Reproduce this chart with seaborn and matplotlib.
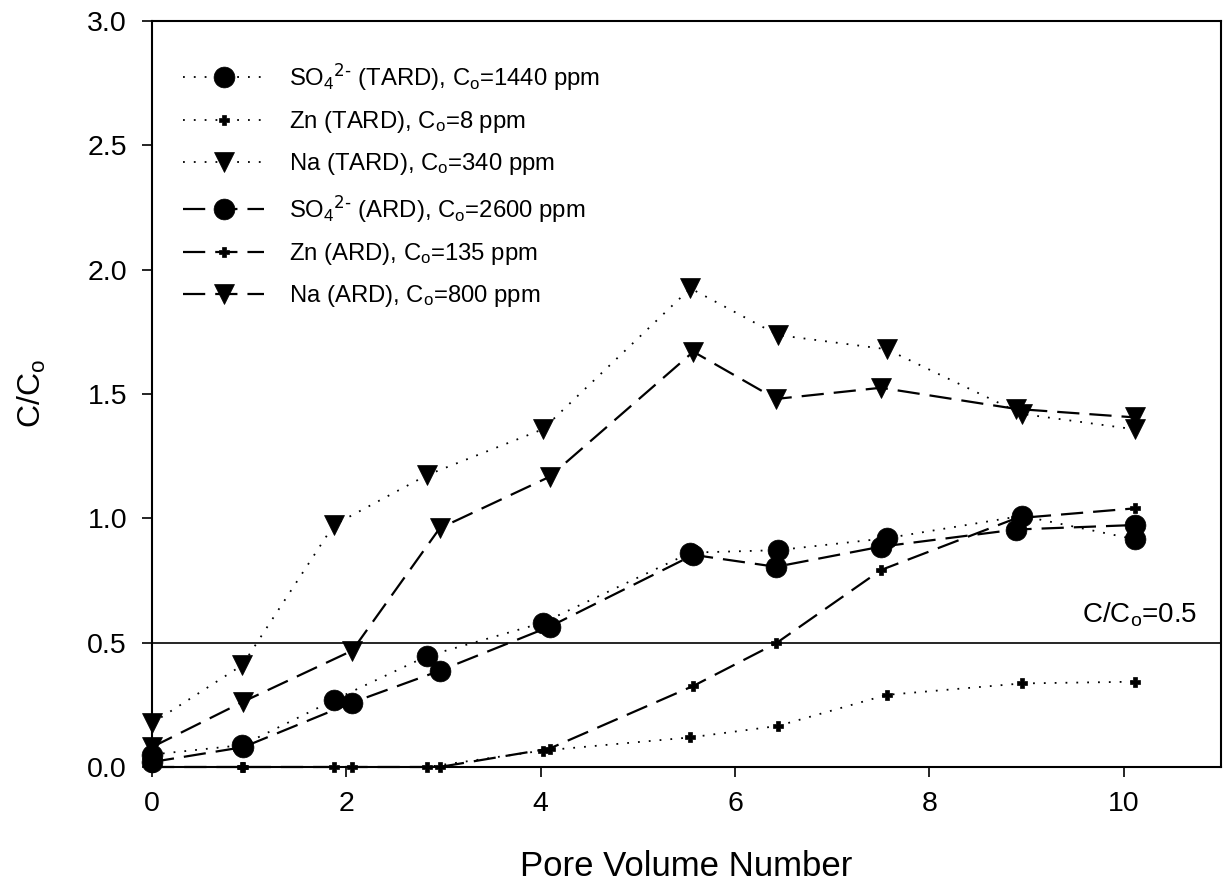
import matplotlib
matplotlib.use("Agg")
import matplotlib.pyplot as plt
import seaborn as sns
import pandas as pd

# ---- data ----
x_tard = [0, 0.93, 1.87, 2.83, 4.02, 5.54, 6.44, 7.56, 8.95, 10.11]
x_ard = [0, 0.94, 2.06, 2.96, 4.09, 5.57, 6.42, 7.50, 8.89, 10.11]

so4_tard = [0.05, 0.088, 0.269, 0.446, 0.58, 0.862, 0.872, 0.92, 1.01, 0.916]
zn_tard = [0.0, 0.0, 0.0, 0.0, 0.066, 0.119, 0.165, 0.29, 0.336, 0.343]
na_tard = [0.176, 0.41, 0.973, 1.174, 1.358, 1.925, 1.737, 1.68, 1.42, 1.358]

so4_ard = [0.02, 0.08, 0.259, 0.387, 0.564, 0.853, 0.805, 0.886, 0.955, 0.973]
zn_ard = [0.0, 0.0, 0.0, 0.0, 0.074, 0.326, 0.497, 0.792, 1.0, 1.04]
na_ard = [0.08, 0.263, 0.468, 0.96, 1.167, 1.67, 1.48, 1.525, 1.44, 1.406]

labels = [
    r"SO$_4$$^{\text{2-}}$ (TARD), C$_o$=1440 ppm",
    r"Zn (TARD), C$_o$=8 ppm",
    r"Na (TARD), C$_o$=340 ppm",
    r"SO$_4$$^{\text{2-}}$ (ARD), C$_o$=2600 ppm",
    r"Zn (ARD), C$_o$=135 ppm",
    r"Na (ARD), C$_o$=800 ppm",
]
x_ticks = [0, 2, 4, 6, 8, 10]
y_ticks = [0.0, 0.5, 1.0, 1.5, 2.0, 2.5, 3.0]
ref_level = 0.5

# ---- style ----
sns.set_style("ticks")
plt.rcParams["font.family"] = ["Liberation Sans", "DejaVu Sans"]
plt.rcParams["mathtext.default"] = "regular"
plt.rcParams["text.color"] = "black"
plt.rcParams["axes.labelcolor"] = "black"
plt.rcParams["xtick.color"] = "black"
plt.rcParams["ytick.color"] = "black"

fig = plt.figure(figsize=(12.31, 8.82), dpi=100)
ax = fig.add_axes([0.1235, 0.1304, 0.8684, 0.8458])

series = [
    (x_tard, so4_tard, labels[0], "o", 15, "tard"),
    (x_tard, zn_tard, labels[1], "P", 7, "tard"),
    (x_tard, na_tard, labels[2], "v", 14, "tard"),
    (x_ard, so4_ard, labels[3], "o", 15, "ard"),
    (x_ard, zn_ard, labels[4], "P", 7, "ard"),
    (x_ard, na_ard, labels[5], "v", 14, "ard"),
]

for xs, ys, lab, mk, ms, kind in series:
    df = pd.DataFrame({"x": xs, "y": ys})
    if kind == "tard":
        ls = (0, (1, 5))
        lw = 1.3
    else:
        ls = (0, (10, 4.5))
        lw = 1.6
    sns.lineplot(data=df, x="x", y="y", ax=ax, color="black", estimator=None,
                 sort=False, label=lab, linestyle=ls, linewidth=lw,
                 marker=mk, markersize=ms, markeredgecolor="black",
                 markerfacecolor="black", markeredgewidth=0.5, clip_on=False)

ax.axhline(ref_level, color="black", linewidth=1.2, zorder=1)
ax.text(10.16, 0.58, r"C/C$_o$=0.5", ha="center", va="baseline",
        fontsize=20)

ax.set_xlim(0, 11)
ax.set_ylim(0, 3.0)
ax.set_xticks(x_ticks)
ax.set_yticks(y_ticks)
ax.set_xticklabels([str(t) for t in x_ticks])
ax.set_yticklabels([f"{t:.1f}" for t in y_ticks])
ax.tick_params(axis="both", direction="out", length=7, width=1.2,
               labelsize=20.5, pad=11)
ax.tick_params(axis="x", pad=10)
for sp in ax.spines.values():
    sp.set_visible(True)
    sp.set_linewidth(1.5)
    sp.set_color("black")

ax.set_xlabel("Pore Volume Number", fontsize=25, labelpad=24)
ax.set_ylabel(r"C/C$_o$", fontsize=23, labelpad=28)

leg = ax.legend(loc="upper left", bbox_to_anchor=(0.029, 0.946), frameon=False,
                fontsize=17.2, handlelength=3.4, handletextpad=1.05,
                labelspacing=0.68, borderpad=0, borderaxespad=0)

fig.savefig("out.png", dpi=100)
